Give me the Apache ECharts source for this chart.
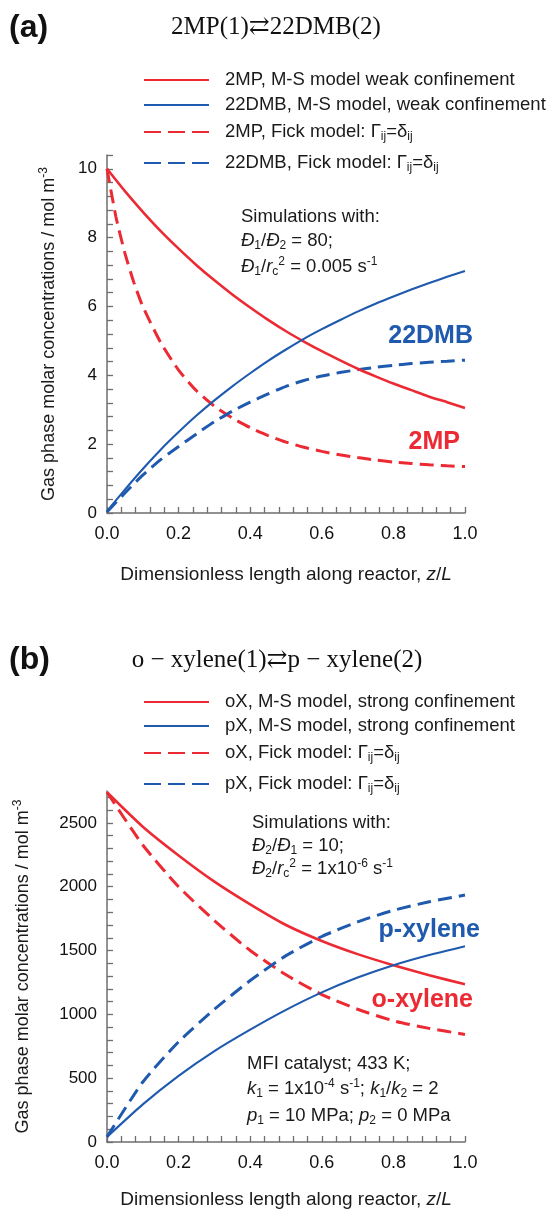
<!DOCTYPE html>
<html>
<head>
<meta charset="utf-8">
<script src="https://cdn.jsdelivr.net/npm/echarts@6/dist/echarts.min.js"></script>
<style>
  html, body { margin: 0; padding: 0; background: #ffffff; }
  #chart { width: 552px; height: 1213px; }
</style>
</head>
<body>
<div id="chart"></div>
<script>
// ---------- Panel (a): 2MP(1) <-> 22DMB(2) ----------
const zA = [0, 0.05, 0.1, 0.15, 0.2, 0.25, 0.3, 0.35, 0.4, 0.45, 0.5, 0.55, 0.6, 0.65, 0.7, 0.75, 0.8, 0.85, 0.9, 0.95, 1.0];
const mp2MS = [10, 9.35, 8.75, 8.19, 7.68, 7.20, 6.76, 6.35, 5.97, 5.61, 5.28, 4.98, 4.70, 4.44, 4.19, 3.97, 3.76, 3.57, 3.38, 3.22, 3.05];
const dmb22MS = [0.05, 0.68, 1.28, 1.84, 2.35, 2.83, 3.27, 3.68, 4.06, 4.42, 4.75, 5.06, 5.34, 5.60, 5.85, 6.08, 6.29, 6.49, 6.68, 6.86, 7.03];
const dmb22Fick = [0.03, 0.58, 1.10, 1.55, 1.93, 2.30, 2.65, 2.96, 3.22, 3.46, 3.68, 3.85, 3.98, 4.08, 4.16, 4.23, 4.29, 4.34, 4.38, 4.41, 4.44];
const zAFick = [0, 0.025, 0.05, 0.075, 0.1, 0.15, 0.2, 0.25, 0.3, 0.35, 0.4, 0.45, 0.5, 0.55, 0.6, 0.65, 0.7, 0.75, 0.8, 0.85, 0.9, 0.95, 1.0];
const mp2Fick = [10, 8.6, 7.55, 6.7, 6.0, 4.95, 4.15, 3.55, 3.1, 2.76, 2.48, 2.25, 2.06, 1.91, 1.79, 1.69, 1.61, 1.54, 1.48, 1.44, 1.40, 1.37, 1.35];

// ---------- Panel (b): o-xylene(1) <-> p-xylene(2) ----------
const zB = [0, 0.1, 0.2, 0.3, 0.4, 0.5, 0.6, 0.7, 0.8, 0.9, 1.0];
const oxMS = [2740, 2470, 2245, 2040, 1862, 1700, 1575, 1472, 1385, 1306, 1236];
const pxMS = [40, 295, 518, 712, 880, 1035, 1172, 1288, 1385, 1465, 1534];
const oxFick = [2740, 2327, 2000, 1735, 1500, 1310, 1155, 1040, 950, 890, 843];
const pxFick = [40, 470, 785, 1040, 1265, 1460, 1610, 1725, 1815, 1882, 1935];

// ---------- Tick labels ----------
const xTickLabels = [0, 0.2, 0.4, 0.6, 0.8, 1.0];
const yTickLabelsA = [0, 2, 4, 6, 8, 10];
const yTickLabelsB = [0, 500, 1000, 1500, 2000, 2500];

const RED = '#ec2a33';
const BLUE = '#1f5aae';
const AXIS = '#6e6e6e';
const INK = '#1a1a1a';
const FONT = '"Liberation Sans", Arial, Helvetica, sans-serif';
const SERIF = '"Liberation Serif", "Times New Roman", "DejaVu Serif", serif';

function pairs(xs, ys) { return xs.map((x, i) => [x, ys[i]]); }
function steps(lo, hi, step) {
  const out = [];
  const n = Math.round((hi - lo) / step);
  for (let i = 0; i <= n; i++) out.push(+(lo + i * step).toFixed(6));
  return out;
}

// rich-text styles for sub/superscripts and italics
function richSet(size) {
  const small = Math.round(size * 0.66);
  return {
    i: { fontStyle: 'italic', fontFamily: FONT, fontSize: size, color: INK, fill: INK },
    sub: { fontFamily: FONT, fontSize: small, lineHeight: 10, verticalAlign: 'bottom', color: INK, fill: INK },
    sup: { fontFamily: FONT, fontSize: small, lineHeight: 10, verticalAlign: 'top', color: INK, fill: INK }
  };
}

function xAxisCfg(gridIndex, nameGap) {
  return {
    type: 'value', gridIndex, min: 0, max: 1, interval: 0.04,
    name: 'Dimensionless length along reactor, {i|z}/{i|L}',
    nameLocation: 'middle', nameGap,
    nameTextStyle: { fontFamily: FONT, fontSize: 19, color: INK, rich: richSet(19) },
    axisLine: { show: true, onZero: false, lineStyle: { color: AXIS, width: 1.5 } },
    axisTick: { show: true, inside: true, length: 6, lineStyle: { color: AXIS, width: 1.3 }, customValues: steps(0, 1, 0.04) },
    axisLabel: { customValues: xTickLabels, formatter: v => v.toFixed(1), margin: 12, fontFamily: FONT, fontSize: 18, color: '#111' },
    splitLine: { show: false }
  };
}

function yAxisCfg(gridIndex, max, minorStep, labels, nameGap) {
  return {
    type: 'value', gridIndex, min: 0, max, interval: minorStep,
    name: 'Gas phase molar concentrations / mol m{sup|-3}',
    nameLocation: 'middle', nameGap, nameRotate: 90,
    nameTextStyle: { fontFamily: FONT, fontSize: 18, color: INK, lineHeight: 22, rich: richSet(18) },
    axisLine: { show: true, onZero: false, lineStyle: { color: AXIS, width: 1.5 } },
    axisTick: { show: true, inside: true, length: 6, lineStyle: { color: AXIS, width: 1.3 }, customValues: steps(0, Math.floor(max / minorStep) * minorStep, minorStep) },
    axisLabel: { customValues: labels, formatter: v => String(v), margin: 10, fontFamily: FONT, fontSize: 17, color: '#111' },
    splitLine: { show: false }
  };
}

function lineSeries(name, xi, data, color, dashed) {
  return {
    name, type: 'line', xAxisIndex: xi, yAxisIndex: xi, data,
    showSymbol: false, symbol: 'none', smooth: 0.2,
    lineStyle: dashed ? { color, width: 3, type: [14, 7] } : { color, width: color === RED ? 2.6 : 2.1, type: 'solid' },
    itemStyle: { color },
    emphasis: { disabled: true }, silent: true, z: dashed ? 3 : 4
  };
}

const N = {
  a1: '2MP, M-S model weak confinement',
  a2: '22DMB, M-S model, weak confinement',
  a3: '2MP, Fick model: Γij=δij',
  a4: '22DMB, Fick model: Γij=δij',
  b1: 'oX, M-S model, strong confinement',
  b2: 'pX, M-S model, strong confinement',
  b3: 'oX, Fick model: Γij=δij',
  b4: 'pX, Fick model: Γij=δij'
};

function legendCfg(name, centerY, dashed) {
  const cfg = {
    data: [name], left: 143, top: centerY - 11, orient: 'vertical',
    itemWidth: 65, itemHeight: 22, padding: 0, selectedMode: false,
    itemStyle: { opacity: 0 },
    formatter: n => n.replace('Γij=δij', 'Γ{sub|ij}=δ{sub|ij}'),
    textStyle: { fontFamily: FONT, fontSize: 18.5, color: INK, lineHeight: 22, padding: [0, 0, 0, 11], rich: richSet(18.5) }
  };
  if (dashed) cfg.lineStyle = { type: [17, 7] };
  return cfg;
}

function txt(x, y, text, opts) {
  opts = opts || {};
  const size = opts.size || 18.5;
  return {
    type: 'text', x, y, silent: true,
    style: {
      text, fill: opts.color || INK, fontFamily: opts.family || FONT, fontSize: size,
      fontWeight: opts.weight || 'normal', lineHeight: 22,
      align: opts.align || 'left', verticalAlign: 'middle',
      textAlign: opts.align || 'left', textVerticalAlign: 'middle',
      rich: richSet(size)
    }
  };
}

const chart = echarts.init(document.getElementById('chart'), null, { renderer: 'canvas' });
chart.setOption({
  animation: false,
  backgroundColor: '#ffffff',
  grid: [
    { left: 107, right: 87, top: 155, bottom: 700, containLabel: false },
    { left: 107, right: 87, top: 791, bottom: 71, containLabel: false }
  ],
  xAxis: [xAxisCfg(0, 52), xAxisCfg(1, 48)],
  yAxis: [
    yAxisCfg(0, 10.4, 0.4, yTickLabelsA, 47),
    yAxisCfg(1, 2750, 100, yTickLabelsB, 73)
  ],
  legend: [
    legendCfg(N.a1, 80, false), legendCfg(N.a2, 105, false), legendCfg(N.a3, 132, true), legendCfg(N.a4, 163, true),
    legendCfg(N.b1, 702, false), legendCfg(N.b2, 726, false), legendCfg(N.b3, 753, true), legendCfg(N.b4, 784, true)
  ],
  series: [
    lineSeries(N.a3, 0, pairs(zAFick, mp2Fick), RED, true),
    lineSeries(N.a4, 0, pairs(zA, dmb22Fick), BLUE, true),
    lineSeries(N.a1, 0, pairs(zA, mp2MS), RED, false),
    lineSeries(N.a2, 0, pairs(zA, dmb22MS), BLUE, false),
    lineSeries(N.b3, 1, pairs(zB, oxFick), RED, true),
    lineSeries(N.b4, 1, pairs(zB, pxFick), BLUE, true),
    lineSeries(N.b1, 1, pairs(zB, oxMS), RED, false),
    lineSeries(N.b2, 1, pairs(zB, pxMS), BLUE, false)
  ],
  graphic: [
    // panel headers and reaction schemes
    txt(9, 28, '(a)', { size: 32, weight: 'bold', color: '#111' }),
    txt(276, 27, '2MP(1)⇄22DMB(2)', { size: 25, family: SERIF, align: 'center', color: '#111' }),
    txt(9, 660, '(b)', { size: 32, weight: 'bold', color: '#111' }),
    txt(277, 660, 'o − xylene(1)⇄p − xylene(2)', { size: 25, family: SERIF, align: 'center', color: '#111' }),
    // simulation parameters, panel (a)
    txt(241, 217, 'Simulations with:'),
    txt(241, 241, '{i|Đ}{sub|1}/{i|Đ}{sub|2} = 80;'),
    txt(241, 267, '{i|Đ}{sub|1}/{i|r}{sub|c}{sup|2} = 0.005 s{sup|-1}'),
    // simulation parameters, panel (b)
    txt(252, 823, 'Simulations with:'),
    txt(252, 846, '{i|Đ}{sub|2}/{i|Đ}{sub|1} = 10;'),
    txt(252, 869, '{i|Đ}{sub|2}/{i|r}{sub|c}{sup|2} = 1x10{sup|-6} s{sup|-1}'),
    txt(247, 1064, 'MFI catalyst; 433 K;'),
    txt(247, 1089, '{i|k}{sub|1} = 1x10{sup|-4} s{sup|-1}; {i|k}{sub|1}/{i|k}{sub|2} = 2'),
    txt(247, 1116, '{i|p}{sub|1} = 10 MPa; {i|p}{sub|2} = 0 MPa'),
    // curve labels
    txt(473, 336, '22DMB', { size: 25, weight: 'bold', color: BLUE, align: 'right' }),
    txt(460, 442, '2MP', { size: 25, weight: 'bold', color: RED, align: 'right' }),
    txt(480, 930, 'p-xylene', { size: 25, weight: 'bold', color: BLUE, align: 'right' }),
    txt(473, 1000, 'o-xylene', { size: 25, weight: 'bold', color: RED, align: 'right' })
  ]
});
</script>
</body>
</html>
